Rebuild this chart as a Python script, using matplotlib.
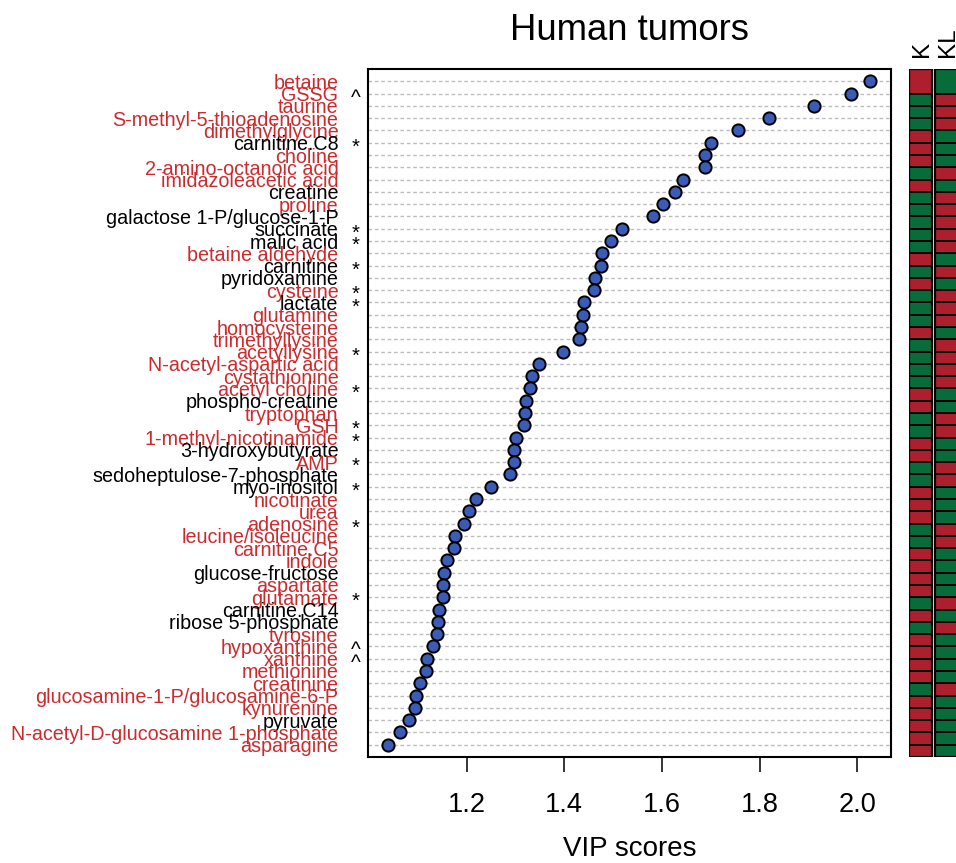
import numpy as np
import matplotlib
matplotlib.use("Agg")
import matplotlib.pyplot as plt
from matplotlib.colors import ListedColormap

plt.rcParams["font.family"] = ["Liberation Sans", "DejaVu Sans"]

# Metabolites, top to bottom
metabolites = [
    "betaine", "GSSG", "taurine", "S-methyl-5-thioadenosine", "dimethylglycine",
    "carnitine.C8", "choline", "2-amino-octanoic acid", "imidazoleacetic acid",
    "creatine", "proline", "galactose 1-P/glucose-1-P", "succinate", "malic acid",
    "betaine aldehyde", "carnitine", "pyridoxamine", "cysteine", "lactate",
    "glutamine", "homocysteine", "trimethyllysine", "acetyllysine",
    "N-acetyl-aspartic acid", "cystathionine", "acetyl choline", "phospho-creatine",
    "tryptophan", "GSH", "1-methyl-nicotinamide", "3-hydroxybutyrate", "AMP",
    "sedoheptulose-7-phosphate", "myo-inositol", "nicotinate", "urea", "adenosine",
    "leucine/isoleucine", "carnitine.C5", "indole", "glucose-fructose", "aspartate",
    "glutamate", "carnitine.C14", "ribose 5-phosphate", "tyrosine", "hypoxanthine",
    "xanthine", "methionine", "creatinine", "glucosamine-1-P/glucosamine-6-P",
    "kynurenine", "pyruvate", "N-acetyl-D-glucosamine 1-phosphate", "asparagine",
]

vip = [
    2.025, 1.988, 1.911, 1.820, 1.756, 1.701, 1.689, 1.688, 1.644, 1.626,
    1.603, 1.582, 1.519, 1.495, 1.478, 1.475, 1.464, 1.460, 1.440, 1.438,
    1.434, 1.430, 1.398, 1.348, 1.335, 1.330, 1.322, 1.320, 1.318, 1.302,
    1.297, 1.297, 1.289, 1.251, 1.219, 1.205, 1.195, 1.176, 1.175, 1.161,
    1.153, 1.152, 1.152, 1.143, 1.141, 1.140, 1.132, 1.119, 1.118, 1.105,
    1.096, 1.095, 1.082, 1.064, 1.040,
]

# label colour group: "r" = red label, "k" = black label
label_group = [
    "r", "r", "r", "r", "r", "k", "r", "r", "r", "k",
    "r", "k", "k", "k", "r", "k", "k", "r", "k", "r",
    "r", "r", "r", "r", "r", "r", "k", "r", "r", "r",
    "k", "r", "k", "k", "r", "r", "r", "r", "r", "r",
    "k", "r", "r", "k", "k", "r", "r", "r", "r", "r",
    "r", "r", "k", "r", "r",
]

# significance symbol shown next to the label
signif = [
    "", "^", "", "", "", "*", "", "", "", "",
    "", "", "*", "*", "", "*", "", "*", "*", "",
    "", "", "*", "", "", "*", "", "", "*", "*",
    "", "*", "", "*", "", "", "*", "", "", "",
    "", "", "*", "", "", "", "^", "^", "", "",
    "", "", "", "", "",
]

# heatmap strip: 1 = red, 0 = green
k_status = [
    1, 0, 0, 0, 1, 1, 1, 0, 1, 0,
    0, 0, 0, 0, 1, 0, 1, 0, 0, 0,
    1, 0, 0, 0, 0, 1, 1, 0, 0, 1,
    1, 0, 0, 1, 1, 1, 0, 0, 1, 1,
    1, 1, 0, 1, 0, 1, 1, 1, 1, 0,
    1, 1, 1, 1, 1,
]
kl_status = [
    0, 1, 1, 1, 0, 0, 0, 1, 0, 1,
    1, 1, 1, 1, 0, 1, 0, 1, 1, 1,
    0, 1, 1, 1, 1, 0, 0, 1, 1, 0,
    0, 1, 1, 0, 0, 0, 1, 1, 0, 0,
    0, 0, 1, 0, 1, 0, 0, 0, 0, 1,
    0, 0, 0, 0, 0,
]
strip_names = ["K", "KL"]

label_red = "#CC2B2E"
cell_red = "#AE1F2E"
cell_green = "#086B3A"
dot_blue = "#3A5BB6"

W, H = 956, 863
fig = plt.figure(figsize=(W / 100, H / 100), dpi=100)

n = len(metabolites)
ypos = np.arange(n, 0, -1)

ax = fig.add_axes([367.6 / W, 1 - 757 / H, (891 - 367.6) / W, (757 - 69) / H])
for y in ypos:
    ax.axhline(y, color="#BDBDBD", lw=1.0, ls=(0, (2.6, 2.0)), zorder=1)
ax.plot(vip, ypos, "o", ms=8.8, mfc=dot_blue, mec="black", mew=1.4, zorder=3)

ax.set_xlim(0.9975, 2.069)
ax.set_ylim(0, n + 1)
ax.set_xticks([1.2, 1.4, 1.6, 1.8, 2.0])
ax.set_xticklabels(["1.2", "1.4", "1.6", "1.8", "2.0"])
ax.tick_params(axis="x", length=11, width=1.1, pad=14, labelsize=19.5)
ax.set_yticks(ypos)
ax.set_yticklabels(metabolites, fontsize=14.2)
ax.tick_params(axis="y", length=0, pad=21)
for tl, g in zip(ax.get_yticklabels(), label_group):
    tl.set_color(label_red if g == "r" else "black")
for sp in ax.spines.values():
    sp.set_linewidth(1.5)
ax.set_xlabel("VIP scores", fontsize=20, labelpad=13)

for y, s in zip(ypos, signif):
    if s:
        ax.annotate(s, xy=(0, y), xycoords=("axes fraction", "data"),
                    xytext=(-8.4, -3.2), textcoords="offset points",
                    ha="center", va="center", fontsize=15 if s == "^" else 14.5,
                    color="black")

fig.text(630 / W, 1 - 30 / H, "Human tumors", ha="center", va="center", fontsize=26.3)

# heatmap strip
hx = fig.add_axes([909.3 / W, 1 - 757 / H, 49 / W, (757 - 69) / H])
y_edges = np.concatenate(([0], np.arange(2, n + 2)))
cmap = ListedColormap([cell_green, cell_red])
col_edges = [[0, 1], [1.12, 2.12]]
for xe, status in zip(col_edges, [k_status, kl_status]):
    hx.pcolormesh(xe, y_edges, np.array(status).reshape(-1, 1), cmap=cmap,
                  vmin=0, vmax=1, edgecolors="black", linewidth=1.3)
    hx.add_patch(plt.Rectangle((xe[0], 0), 1, n + 1, fill=False, ec="black", lw=1.6))
hx.set_xlim(0, 2.12)
hx.set_ylim(n + 1, 0)
hx.axis("off")
for xe, name in zip(col_edges, strip_names):
    hx.text((xe[0] + xe[1]) / 2 + 0.05, -1.0, name, rotation=90, ha="center",
            va="bottom", fontsize=17.5)

fig.savefig("out.png", dpi=100)
